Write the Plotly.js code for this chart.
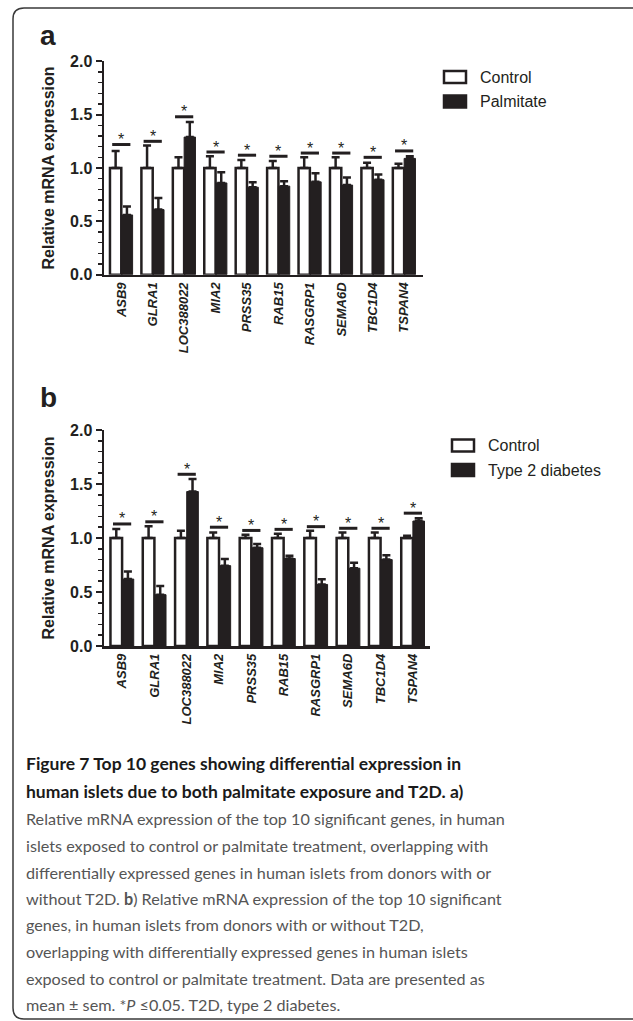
<!DOCTYPE html>
<html>
<head>
<meta charset="utf-8">
<script src="https://cdn.plot.ly/plotly-3.0.1.min.js"></script>
<style>
  html, body { margin: 0; padding: 0; background: #ffffff; }
  #chart { width: 633px; height: 1021px; }
</style>
</head>
<body>
<div id="chart"></div>
<script>
// ---- Data ----
const genes = ['ASB9', 'GLRA1', 'LOC388022', 'MIA2', 'PRSS35', 'RAB15', 'RASGRP1', 'SEMA6D', 'TBC1D4', 'TSPAN4'];

// Panel a: control vs palmitate
const controlA = [1, 1, 1, 1, 1, 1, 1, 1, 1, 1];
const controlASem = [0.16, 0.21, 0.10, 0.11, 0.075, 0.065, 0.10, 0.10, 0.05, 0.04];
const palmitateA = [0.56, 0.61, 1.29, 0.86, 0.82, 0.83, 0.87, 0.84, 0.89, 1.09];
const palmitateASem = [0.08, 0.11, 0.14, 0.10, 0.046, 0.045, 0.08, 0.07, 0.05, 0.02];
const sigA = [1.22, 1.25, 1.48, 1.15, 1.12, 1.11, 1.14, 1.14, 1.10, 1.16];

// Panel b: control vs type 2 diabetes
const controlB = [1, 1, 1, 1, 1, 1, 1, 1, 1, 1];
const controlBSem = [0.083, 0.108, 0.068, 0.05, 0.03, 0.04, 0.068, 0.05, 0.05, 0.02];
const t2dB = [0.62, 0.475, 1.43, 0.744, 0.91, 0.81, 0.57, 0.72, 0.80, 1.157];
const t2dBSem = [0.07, 0.08, 0.116, 0.062, 0.034, 0.026, 0.047, 0.05, 0.04, 0.025];
const sigB = [1.13, 1.15, 1.59, 1.10, 1.07, 1.08, 1.105, 1.09, 1.09, 1.23];

const seriesA = ['Control', 'Palmitate'];
const seriesB = ['Control', 'Type 2 diabetes'];

const yTickVals = [0, 0.5, 1.0, 1.5, 2.0];
const yTickText = ['0.0', '0.5', '1.0', '1.5', '2.0'];

const captionLines = [
  '<b>Figure 7 Top 10 genes showing differential expression in</b>',
  '<b>human islets due to both palmitate exposure and T2D. a)</b>',
  'Relative mRNA expression of the top 10 significant genes, in human',
  'islets exposed to control or palmitate treatment, overlapping with',
  'differentially expressed genes in human islets from donors with or',
  'without T2D. <b>b</b>) Relative mRNA expression of the top 10 significant',
  'genes, in human islets from donors with or without T2D,',
  'overlapping with differentially expressed genes in human islets',
  'exposed to control or palmitate treatment. Data are presented as',
  'mean ± sem. *<i>P</i> ≤0.05. T2D, type 2 diabetes.'
];

// ---- Styling ----
const W = 633, H = 1021;
const INK = '#231f20';
const FONT = 'Arial';
const px = v => v / W;
const py = v => 1 - v / H;

function ctrlTrace(name, y, sem, xa, ya) {
  return {
    type: 'bar', name: name, x: genes, y: y,
    xaxis: xa, yaxis: ya, showlegend: false,
    marker: { color: '#ffffff', line: { color: INK, width: 2.5 } },
    error_y: { type: 'data', symmetric: false, array: sem, arrayminus: sem.map(() => 0),
               color: INK, thickness: 2.5, width: 4 },
    hoverinfo: 'skip'
  };
}
function trtTrace(name, y, sem, xa, ya) {
  return {
    type: 'bar', name: name, x: genes, y: y,
    xaxis: xa, yaxis: ya, showlegend: false,
    marker: { color: INK, line: { color: INK, width: 1 } },
    error_y: { type: 'data', symmetric: false, array: sem, arrayminus: sem.map(() => 0),
               color: INK, thickness: 2.5, width: 4 },
    hoverinfo: 'skip'
  };
}
function sigTrace(y, xa, ya) {
  return {
    type: 'scatter', mode: 'markers', x: genes, y: y,
    xaxis: xa, yaxis: ya, showlegend: false, cliponaxis: false,
    marker: { symbol: 'line-ew', size: 13, color: INK, line: { color: INK, width: 3 } },
    hoverinfo: 'skip'
  };
}

const data = [
  ctrlTrace(seriesA[0], controlA, controlASem, 'x', 'y'),
  trtTrace(seriesA[1], palmitateA, palmitateASem, 'x', 'y'),
  sigTrace(sigA, 'x', 'y'),
  ctrlTrace(seriesB[0], controlB, controlBSem, 'x2', 'y2'),
  trtTrace(seriesB[1], t2dB, t2dBSem, 'x2', 'y2'),
  sigTrace(sigB, 'x2', 'y2')
];

function yAxis(domain, anchor) {
  return {
    domain: domain, anchor: anchor, range: [0, 2], automargin: false,
    tickmode: 'array', tickvals: yTickVals, ticktext: yTickText,
    ticks: 'outside', ticklen: 6, tickwidth: 2, tickcolor: INK,
    showline: true, linewidth: 2.5, linecolor: INK,
    showgrid: false, zeroline: false,
    minor: { dtick: 0.1, tick0: 0, ticks: 'outside', ticklen: 4, tickwidth: 1.5, tickcolor: INK, showgrid: false },
    tickfont: { family: FONT, size: 16, weight: 'bold', color: INK },
    title: { text: 'Relative mRNA expression', standoff: 12,
             font: { family: FONT, size: 16, weight: 'bold', color: INK } }
  };
}
function xAxis(domain, anchor, range) {
  return {
    domain: domain, anchor: anchor, type: 'category', range: range, automargin: false,
    showline: true, linewidth: 2.5, linecolor: INK, ticks: '', showgrid: false, zeroline: false,
    tickangle: -90,
    tickfont: { family: FONT, size: 13, weight: 'bold', style: 'italic', color: INK }
  };
}

const layout = {
  width: W, height: H,
  margin: { l: 0, r: 0, t: 0, b: 0 },
  paper_bgcolor: '#ffffff', plot_bgcolor: 'rgba(0,0,0,0)',
  showlegend: false,
  barmode: 'group', bargap: 0.28, bargroupgap: 0,
  xaxis: xAxis([px(104), px(423)], 'y', [-0.55, 9.6]),
  yaxis: yAxis([py(274.7), py(61.3)], 'x'),
  xaxis2: xAxis([px(104), px(430)], 'y2', [-0.56, 9.53]),
  yaxis2: yAxis([py(646), py(430)], 'x2'),
  shapes: [
    { type: 'path', xref: 'paper', yref: 'paper',
      path: `M ${px(640)},${py(8)} L ${px(24)},${py(8)} Q ${px(13)},${py(8)} ${px(13)},${py(19)} ` +
            `L ${px(13)},${py(1008)} Q ${px(13)},${py(1019)} ${px(24)},${py(1019)} L ${px(640)},${py(1019)}`,
      line: { color: '#3a3a3a', width: 1.5 } }
  ],
  annotations: [
    { text: '<b>a</b>', xref: 'paper', yref: 'paper', x: px(38), y: py(35), xanchor: 'left', yanchor: 'middle',
      showarrow: false, font: { family: FONT, size: 28, color: INK } },
    { text: '<b>b</b>', xref: 'paper', yref: 'paper', x: px(38), y: py(397), xanchor: 'left', yanchor: 'middle',
      showarrow: false, font: { family: FONT, size: 28, color: INK } }
  ]
};

// significance stars, placed on the data scale above each line
function addStars(sig, xa, ya) {
  sig.forEach((v, i) => {
    layout.annotations.push({
      text: '*', xref: xa, yref: ya, x: genes[i], y: v, yanchor: 'middle', yshift: 5,
      showarrow: false, font: { family: FONT, size: 16, color: INK }
    });
  });
}
addStars(sigA, 'x', 'y');
addStars(sigB, 'x2', 'y2');

// legends (wide rectangular swatches as in the original)
function addLegend(names, left, firstY) {
  names.forEach((n, i) => {
    const cy = firstY + i * 24.5;
    layout.shapes.push({
      type: 'rect', xref: 'paper', yref: 'paper',
      x0: px(left + 1), x1: px(left + 23), y0: py(cy - 6), y1: py(cy + 6),
      fillcolor: i === 0 ? '#ffffff' : INK, line: { color: INK, width: 2.5 }
    });
    layout.annotations.push({
      text: n, xref: 'paper', yref: 'paper', x: px(left + 35), y: py(cy),
      xanchor: 'left', yanchor: 'middle', showarrow: false,
      font: { family: FONT, size: 16, color: INK }
    });
  });
}
addLegend(seriesA, 443, 77);
addLegend(seriesB, 451, 445.5);

const captionY = [763, 791, 818, 845, 872, 898, 924, 951, 978, 1004];
captionLines.forEach((t, i) => {
  layout.annotations.push({
    text: t, xref: 'paper', yref: 'paper', x: px(24), y: py(captionY[i]),
    xanchor: 'left', yanchor: 'middle', showarrow: false, align: 'left',
    font: { family: 'Lato, sans-serif', size: i < 2 ? 17.5 : 16.2, color: i < 2 ? '#1a1a1a' : '#555555' }
  });
});

Plotly.newPlot('chart', data, layout, { staticPlot: true, displayModeBar: false });
</script>
</body>
</html>
